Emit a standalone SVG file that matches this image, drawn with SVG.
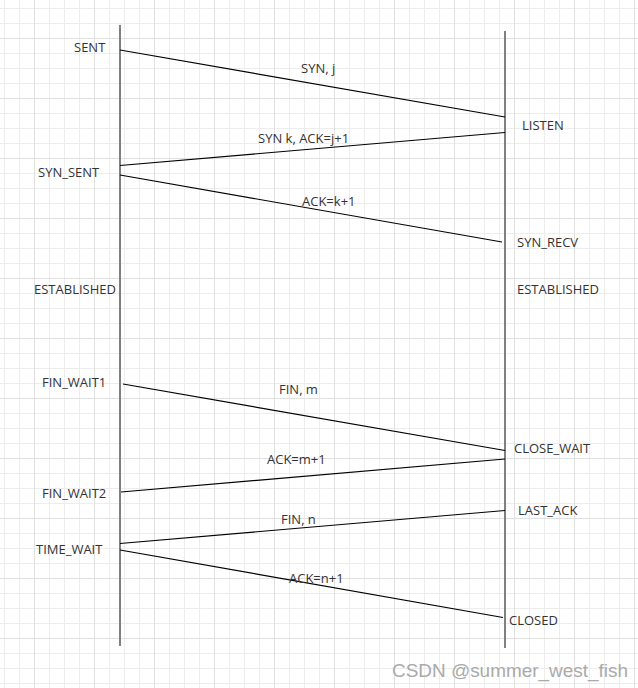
<svg xmlns="http://www.w3.org/2000/svg" width="638" height="688" viewBox="0 0 638 688">
<defs>
<pattern id="minor" x="4" y="8" width="15" height="15" patternUnits="userSpaceOnUse">
<path d="M0.5 0V15M0 0.5H15" stroke="#ededed" stroke-width="1" fill="none"/>
</pattern>
<pattern id="major" x="34" y="38" width="60" height="60" patternUnits="userSpaceOnUse">
<path d="M0.5 0V60M0 0.5H60" stroke="#e0e0e0" stroke-width="1" fill="none"/>
</pattern>
</defs>
<style>
.lbl{font-family:"Open Sans","Liberation Sans",sans-serif;font-size:13px;fill:#333}
.life{stroke:#808080;stroke-width:2;fill:none}
.msg{stroke:#000;stroke-width:1.2;fill:none}
.wm{font-family:"Liberation Sans",Arial,sans-serif;font-size:19px;fill:#aaa}
</style>
<rect width="638" height="688" fill="#fff"/>
<rect width="638" height="688" fill="url(#minor)"/>
<rect width="638" height="688" fill="url(#major)"/>
<g id="client">
<line class="life" x1="120" y1="25" x2="120" y2="646"/>
<text class="lbl" x="74" y="52">SENT</text>
<text class="lbl" x="38" y="177">SYN_SENT</text>
<text class="lbl" x="34" y="294">ESTABLISHED</text>
<text class="lbl" x="42" y="387">FIN_WAIT1</text>
<text class="lbl" x="42" y="498">FIN_WAIT2</text>
<text class="lbl" x="36" y="554">TIME_WAIT</text>
</g>
<g id="server">
<line class="life" x1="505" y1="31" x2="505" y2="648"/>
<text class="lbl" x="522" y="130">LISTEN</text>
<text class="lbl" x="517" y="247">SYN_RECV</text>
<text class="lbl" x="517" y="294">ESTABLISHED</text>
<text class="lbl" x="514" y="453">CLOSE_WAIT</text>
<text class="lbl" x="518" y="515">LAST_ACK</text>
<text class="lbl" x="509" y="625">CLOSED</text>
</g>
<g id="connectors">
<line class="msg" x1="120" y1="50" x2="505" y2="117"/>
<line class="msg" x1="505" y1="132.5" x2="120" y2="165.5"/>
<line class="msg" x1="120" y1="175" x2="502" y2="242"/>
<line class="msg" x1="123" y1="384" x2="505" y2="450.5"/>
<line class="msg" x1="505" y1="459" x2="121" y2="492"/>
<line class="msg" x1="505" y1="510.5" x2="120" y2="543.5"/>
<line class="msg" x1="120" y1="550" x2="503" y2="617.5"/>
<text class="lbl" x="301" y="73">SYN, j</text>
<text class="lbl" x="258" y="143">SYN k, ACK=j+1</text>
<text class="lbl" x="302" y="206">ACK=k+1</text>
<text class="lbl" x="279" y="394">FIN, m</text>
<text class="lbl" x="267" y="464">ACK=m+1</text>
<text class="lbl" x="281" y="524">FIN, n</text>
<text class="lbl" x="289" y="583">ACK=n+1</text>
</g>
<text class="wm" x="392" y="677" textLength="236" lengthAdjust="spacingAndGlyphs">CSDN @summer_west_fish</text>
</svg>
